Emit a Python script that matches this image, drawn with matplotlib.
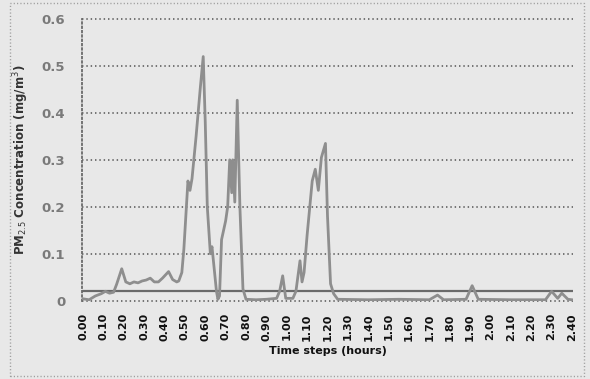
import matplotlib
matplotlib.use("Agg")
import matplotlib.pyplot as plt
from matplotlib.patches import Rectangle

# ---- data ----
time_h = [0.00, 0.03, 0.06, 0.09, 0.11, 0.13, 0.15, 0.165, 0.19, 0.21,
          0.23, 0.25, 0.27, 0.29, 0.31, 0.33, 0.35, 0.37, 0.39, 0.42,
          0.44, 0.46, 0.47, 0.485, 0.495, 0.515, 0.525, 0.535, 0.555, 0.575,
          0.59, 0.60, 0.61, 0.625, 0.633, 0.64, 0.655, 0.662, 0.67, 0.68,
          0.69, 0.70, 0.71, 0.72, 0.73, 0.735, 0.745, 0.757, 0.77, 0.785,
          0.80, 0.85, 0.90, 0.95, 0.965, 0.98, 0.995, 1.03, 1.045, 1.065,
          1.075, 1.085, 1.10, 1.125, 1.14, 1.155, 1.17, 1.19, 1.20, 1.215,
          1.23, 1.25, 1.40, 1.55, 1.70, 1.74, 1.77, 1.88, 1.91, 1.94,
          2.10, 2.27, 2.30, 2.33, 2.35, 2.38, 2.40]
pm25 = [0.004, 0.002, 0.010, 0.015, 0.020, 0.016, 0.018, 0.035, 0.068, 0.040,
        0.036, 0.040, 0.038, 0.042, 0.044, 0.048, 0.040, 0.040, 0.048, 0.062,
        0.045, 0.040, 0.042, 0.060, 0.110, 0.255, 0.235, 0.260, 0.350, 0.450,
        0.520, 0.380, 0.200, 0.100, 0.115, 0.085, 0.020, 0.003, 0.010, 0.130,
        0.150, 0.170, 0.200, 0.300, 0.230, 0.300, 0.210, 0.427, 0.200, 0.025,
        0.003, 0.002, 0.003, 0.005, 0.020, 0.053, 0.005, 0.005, 0.020, 0.085,
        0.040, 0.060, 0.140, 0.255, 0.280, 0.235, 0.305, 0.335, 0.180, 0.036,
        0.015, 0.003, 0.002, 0.003, 0.002, 0.012, 0.002, 0.003, 0.032, 0.003,
        0.002, 0.002, 0.020, 0.005, 0.016, 0.003, 0.002]
threshold = 0.02
x_ticks = [round(0.1 * i, 2) for i in range(25)]
x_labels = ["%.2f" % v for v in x_ticks]
y_ticks = [0, 0.1, 0.2, 0.3, 0.4, 0.5, 0.6]
y_labels = ["0", "0.1", "0.2", "0.3", "0.4", "0.5", "0.6"]

bg = "#e8e8e8"
dot = (0, (0.8, 1.6))
fig = plt.figure(figsize=(5.9, 3.79), dpi=100, facecolor=bg)
ax = fig.add_axes([82/590, 1 - 300.7/379, (573-82)/590, (300.7-19)/379])
ax.set_facecolor(bg)

# outer dotted border of chart
border = Rectangle((10/590, 3/379), (584-10)/590, (376-3)/379, transform=fig.transFigure,
                   fill=False, edgecolor="#9a9a9a", linestyle=dot, linewidth=1.0)
fig.add_artist(border)

ax.set_xlim(-0.005, 2.405)
ax.set_ylim(0, 0.6)

# dotted horizontal gridlines
for yv in y_ticks:
    ax.axhline(yv, color="#6a6a6a", linestyle=dot, linewidth=1.3, zorder=1, clip_on=False)

ax.plot(time_h, pm25, color="#8e8e8e", linewidth=2.0, zorder=3)
ax.axhline(threshold, color="#6a6a6a", linewidth=1.6, zorder=2)

for s in ["top", "right", "bottom"]:
    ax.spines[s].set_visible(False)
ax.spines["left"].set_linestyle(dot)
ax.spines["left"].set_color("#6a6a6a")
ax.spines["left"].set_linewidth(1.3)

ax.set_xticks(x_ticks)
ax.set_xticklabels(x_labels, rotation=90, fontsize=8, fontweight="bold", color="#111111")
ax.set_yticks(y_ticks)
ax.set_yticklabels(y_labels, fontsize=9.5, fontweight="bold", color="#7a7a7a")
ax.tick_params(axis="x", length=0, pad=9)
ax.tick_params(axis="y", length=0, pad=12)

ax.set_xlabel("Time steps (hours)", fontsize=8, fontweight="bold", color="#111111", labelpad=4)
ax.set_ylabel("PM$_{2.5}$ Concentration (mg/m$^3$)", fontsize=8.5, fontweight="bold",
              color="#333333", labelpad=8)

fig.savefig("out.png", dpi=100, facecolor=bg)
